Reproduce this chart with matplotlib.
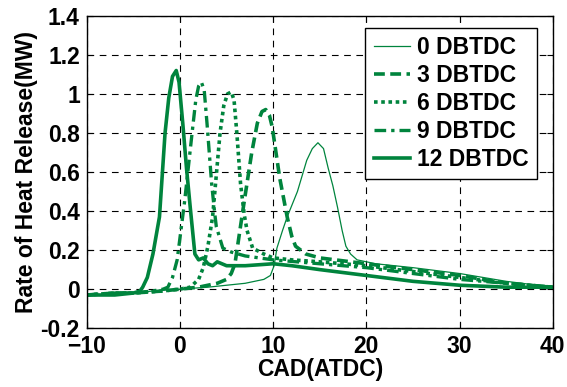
import matplotlib
matplotlib.use("Agg")
import matplotlib.pyplot as plt

GREEN = "#00843D"

# values (CAD in deg ATDC, heat release in MW)
cad_0 = [-10, -7, -5, -3, 0, 3, 5, 7, 9, 9.7, 10.1, 10.4, 11.0, 11.5, 12.6, 13.6,
         14.2, 14.8, 15.4, 15.9, 16.4, 16.9, 17.4, 17.8, 18.3, 19, 21, 25, 30, 35, 40]
hrr_0 = [-0.03, -0.03, -0.02, -0.01, 0.0, 0.01, 0.02, 0.03, 0.05, 0.07, 0.12, 0.21,
         0.3, 0.37, 0.5, 0.66, 0.72, 0.75, 0.72, 0.62, 0.53, 0.42, 0.3, 0.22, 0.18,
         0.15, 0.13, 0.11, 0.08, 0.04, 0.01]

cad_3 = [-10, -7, -5, -2, 0, 2, 3, 4, 5, 5.5, 5.9, 6.8, 7.7, 8.3, 8.8, 9.2, 9.6,
         9.9, 10.3, 10.7, 11.5, 12.0, 12.4, 13.5, 15, 20, 25, 30, 35, 40]
hrr_3 = [-0.03, -0.02, -0.02, -0.01, 0.0, 0.01, 0.02, 0.03, 0.05, 0.08, 0.13, 0.42,
         0.7, 0.85, 0.91, 0.92, 0.89, 0.83, 0.7, 0.57, 0.37, 0.27, 0.22, 0.18, 0.16,
         0.13, 0.1, 0.07, 0.03, 0.01]

cad_6 = [-10, -7, -5, -2, 0, 1.1, 2.0, 2.5, 3.0, 3.5, 4.3, 4.7, 5.1, 5.5, 5.8, 6.1,
         6.5, 6.9, 7.2, 7.8, 9, 10, 12, 15, 20, 25, 30, 35, 40]
hrr_6 = [-0.03, -0.02, -0.02, -0.01, 0.0, 0.01, 0.05, 0.11, 0.22, 0.37, 0.8, 0.94,
         1.0, 1.01, 0.97, 0.8, 0.54, 0.38, 0.3, 0.21, 0.18, 0.16, 0.15, 0.14, 0.12,
         0.09, 0.06, 0.03, 0.01]

cad_9 = [-10, -7, -5, -3, -1.8, -1.3, -0.8, -0.3, 0.5, 1.3, 1.7, 2.0, 2.3, 2.6,
         2.9, 3.4, 3.7, 3.9, 4.6, 5.5, 7, 10, 15, 20, 25, 30, 35, 40]
hrr_9 = [-0.03, -0.02, -0.02, -0.01, 0.0, 0.01, 0.06, 0.15, 0.45, 0.8, 0.97, 1.04,
         1.06, 1.02, 0.85, 0.54, 0.4, 0.32, 0.21, 0.19, 0.17, 0.15, 0.13, 0.11,
         0.08, 0.05, 0.03, 0.01]

cad_12 = [-10, -7, -5, -4.3, -4, -3.5, -2.9, -2.2, -1.6, -1.2, -0.8, -0.4, -0.1,
          0.3, 0.7, 1.1, 1.6, 2.0, 2.5, 3.0, 3.5, 4.0, 5, 7, 10, 12, 15, 20, 25, 30,
          35, 40]
hrr_12 = [-0.03, -0.03, -0.02, -0.01, 0.01, 0.06, 0.18, 0.37, 0.8, 0.98, 1.09,
          1.12, 1.06, 0.85, 0.62, 0.42, 0.18, 0.15, 0.16, 0.13, 0.12, 0.14, 0.12,
          0.12, 0.13, 0.12, 0.1, 0.07, 0.04, 0.02, 0.01, 0.01]

series = [
    ("0 DBTDC", cad_0, hrr_0, "-", 0.9),
    ("3 DBTDC", cad_3, hrr_3, (0, (3, 1.5)), 2.6),
    ("6 DBTDC", cad_6, hrr_6, (0, (1, 1)), 2.6),
    ("9 DBTDC", cad_9, hrr_9, (0, (3.5, 1.5, 1, 1.5)), 2.4),
    ("12 DBTDC", cad_12, hrr_12, "-", 2.6),
]

plt.rcParams["font.family"] = ["Liberation Sans", "DejaVu Sans"]
plt.rcParams["font.weight"] = "bold"

fig = plt.figure(figsize=(5.67, 3.87), dpi=100)
ax = fig.add_axes([0.153, 0.152, 0.822, 0.807])

for label, x, y, ls, lw in series:
    ax.plot(x, y, color=GREEN, linestyle=ls, linewidth=lw, label=label,
            solid_joinstyle="round", dash_joinstyle="round")

ax.set_xlim(-10, 40)
ax.set_ylim(-0.2, 1.4)
ax.set_xticks([-10, 0, 10, 20, 30, 40])
ax.set_yticks([-0.2, 0, 0.2, 0.4, 0.6, 0.8, 1, 1.2, 1.4])
ax.set_yticklabels(["-0.2", "0", "0.2", "0.4", "0.6", "0.8", "1", "1.2", "1.4"])
ax.grid(True, color="black", linestyle=(0, (6, 5)), linewidth=0.8)
ax.tick_params(direction="in", top=True, right=True, labelsize=16.5, length=4)
ax.tick_params(axis="x", pad=5)
ax.tick_params(axis="y", pad=5)
for spine in ax.spines.values():
    spine.set_linewidth(1.0)

ax.set_xlabel("CAD(ATDC)", fontsize=16.5, fontweight="bold", labelpad=0)
ax.set_ylabel("Rate of Heat Release(MW)", fontsize=16.5, fontweight="bold", labelpad=2)

leg = ax.legend(loc="upper right", fontsize=16.5, frameon=True, fancybox=False,
                edgecolor="black", framealpha=1, handlelength=1.6,
                handletextpad=0.3, labelspacing=0.22, borderpad=0.35,
                bbox_to_anchor=(0.99, 0.997))
leg.get_frame().set_linewidth(1.0)

fig.savefig("out.png", dpi=100)
